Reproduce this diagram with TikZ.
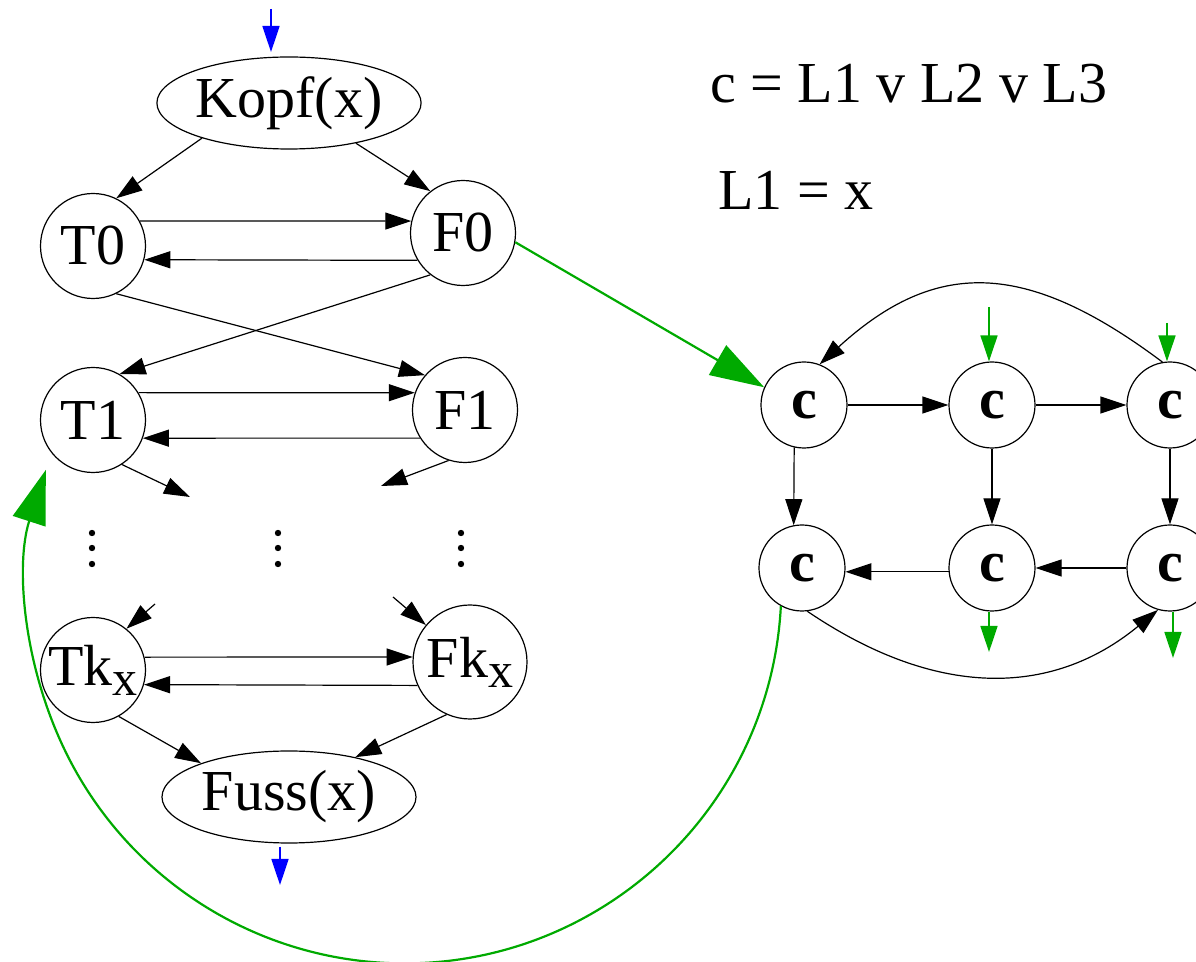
\documentclass[tikz,border=0pt]{standalone}
\usepackage{fontspec}
\setmainfont{Liberation Serif}
\usetikzlibrary{shapes.geometric, arrows.meta, calc}
\definecolor{gruen}{RGB}{0,170,0}
\tikzset{
  kn/.style = {circle, draw=black, inner sep=0pt, minimum size=52.5pt,
    line width=0.6pt, font=\fontsize{29}{34}\selectfont},
  ell/.style = {ellipse, draw=black, inner sep=0pt, minimum width=127pt,
    minimum height=46pt, line width=0.6pt, font=\fontsize{29}{34}\selectfont},
  zel/.style = {circle, draw=black, inner sep=0pt, minimum size=43pt,
    line width=0.6pt, font=\bfseries\fontsize{29}{34}\selectfont},
  txt/.style = {anchor=base west, inner sep=0pt, font=\fontsize{29}{34}\selectfont},
  pf/.style = {-{Triangle[length=13pt, width=8.5pt]}, line width=0.6pt},
  gpf/.style = {-{Triangle[length=27pt, width=17pt]}, line width=1.1pt, draw=gruen},
  gk/.style = {-{Triangle[length=13pt, width=8.5pt]}, line width=0.8pt, draw=gruen},
  bpf/.style = {-{Triangle[length=13pt, width=8.5pt]}, line width=0.8pt, draw=blue}
}
\newcommand{\tief}[1]{\raisebox{-5pt}{\fontsize{25}{25}\selectfont #1}}

\begin{document}
\begin{tikzpicture}[x=0.5pt, y=-0.5pt]
  \useasboundingbox (0,0) rectangle (1196,962);
  \node [ell] (kopf) at (289,103) {Kopf(x)};
  \node [kn] (t0) at (93,246) {T0};
  \node [kn] (f0) at (463,233) {F0};
  \node [kn] (t1) at (93,420) {T1};
  \node [kn] (f1) at (465,410) {F1};
  \node [kn] (tk) at (93,670) {Tk\tief{x}};
  \node [kn, minimum size=57pt] (fk) at (470,662) {Fk\tief{x}};
  \node [ell] (fuss) at (289,797) {Fuss(x)};
  \foreach \x in {92,278,461}
    \foreach \y in {533,548,564}
      \fill (\x,\y) circle (1.6pt);
  \coordinate (ein) at (271,9);
  \coordinate (aus) at (280,885);
  \draw [bpf] (ein) -- ++(0,43);
  \draw [bpf] ($(aus |- fuss.south)+(0,3)$) -- (aus);
  \draw [pf] (kopf.202) -- (t0.64);
  \draw [pf] (kopf.329) -- (f0.128);
  \draw [pf] (t0.28) -- (f0.167);
  \draw [pf] (f0.211) -- (t0.345);
  \draw [pf] (t0.296) -- (f1.139);
  \draw [pf] (f0.232) -- (t1.60);
  \draw [pf] (t1.31) -- (f1.161);
  \draw [pf] (f1.212) -- (t1.340);
  \coordinate (t1a) at (190,497);
  \coordinate (f1a) at (381,486);
  \coordinate (tke) at (155,604);
  \coordinate (fke) at (393,597);
  \draw [pf] (t1.303) -- (t1a);
  \draw [pf] (f1.252) -- (f1a);
  \draw [pf] (tke) -- (tk.51);
  \draw [pf] (fke) -- (fk.140);
  \draw [pf] (tk.14) -- (fk.175);
  \draw [pf] (fk.204) -- (tk.344);
  \draw [pf] (tk.299) -- (fuss.159);
  \draw [pf] (fk.246) -- (fuss.31);

  \node [txt] (gl) at (710,103) {c = L1 v L2 v L3};
  \node [txt] (lit) at (718,210) {L1 = x};
  \node [zel] (z11) at (804,405) {c};
  \node [zel] (z12) at (992,405) {c};
  \node [zel] (z13) at (1170,405) {c};
  \node [zel] (z21) at (802,568) {c};
  \node [zel] (z22) at (992,568) {c};
  \node [zel] (z23) at (1170,568) {c};
  \draw [pf] (z11) -- (z12);
  \draw [pf] (z12) -- (z13);
  \draw [pf] (z11.257) -- (z21.101);
  \draw [pf] (z12) -- (z22);
  \draw [pf] (z13) -- (z23);
  \draw [pf] (z22.185) -- (z21.355);
  \draw [pf] (z23) -- (z22);
  \draw [pf] (z13.100) .. controls (1025,259) and (935,259) .. (z11.69);
  \draw [pf] (z21.277) .. controls (935,698) and (1051,698) .. (z23.254);
  \coordinate (g12) at (989,307);
  \coordinate (g13) at (1167,323);
  \coordinate (g22) at (989,652);
  \coordinate (g23) at (1173,658);
  \draw [gk] (g12) -- (g12 |- z12.north);
  \draw [gk] (g13) -- (g13 |- z13.north);
  \draw [gk] (g22 |- z22.south) -- (g22);
  \draw [gk] (g23 |- z23.south) -- (g23);

  \draw [gpf] (f0.350) -- (z11.156);
  \draw [gpf] (z21.241) arc [start angle=-3, end angle=-198, radius=188.5pt];
\end{tikzpicture}
\end{document}
